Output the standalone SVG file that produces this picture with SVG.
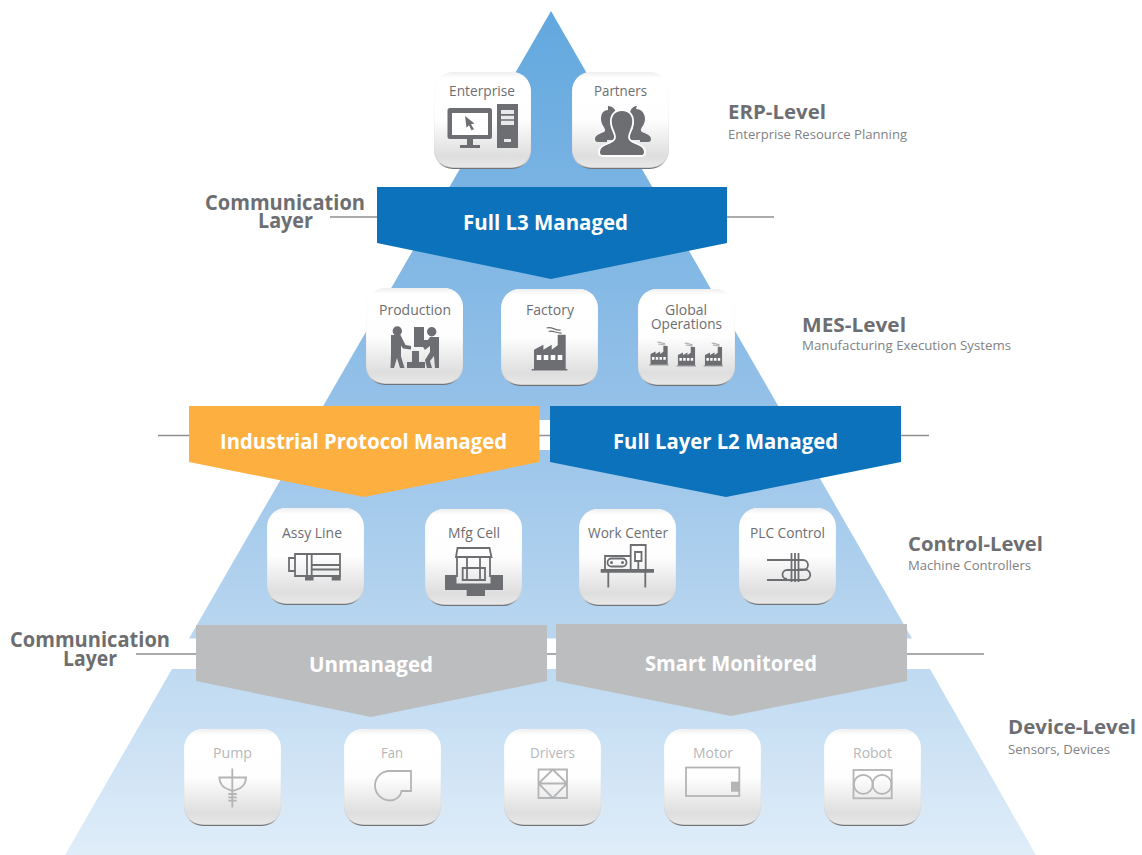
<svg xmlns="http://www.w3.org/2000/svg" width="1142" height="855" viewBox="0 0 1142 855">
<style>
text{font-family:"Open Sans","Noto Sans","Liberation Sans",sans-serif}
.t{font-size:14px;fill:#6d6e71}
.tl{font-size:14px;fill:#b6b7b9}
.h{font-size:20px;font-weight:700;fill:#6d6e71}
.s{font-size:13.5px;fill:#808285}
.c{font-size:21px;font-weight:700;fill:#6d6e71}
.b{font-size:21px;font-weight:700;fill:#fff}
.lnk{stroke:#8f9093;stroke-width:1.7;fill:none}
.k{fill:#6d6e71}
.w{fill:#fff}
.o{fill:none;stroke:#6d6e71;stroke-width:1.8}
.ol{fill:none;stroke:#b3b4b6;stroke-width:1.8}
</style>
<defs>
<linearGradient id="pyr" gradientUnits="userSpaceOnUse" x1="0" y1="11" x2="0" y2="855">
<stop offset="0" stop-color="#62a8de"/><stop offset=".45" stop-color="#93c0e8"/><stop offset=".75" stop-color="#bad7f0"/><stop offset="1" stop-color="#e0edf9"/>
</linearGradient>
<linearGradient id="edge" x1="0" y1="0" x2="0" y2="1">
<stop offset="0" stop-color="#fff"/><stop offset=".93" stop-color="#d0d0d0"/><stop offset="1" stop-color="#6a6b6e"/>
</linearGradient>
<linearGradient id="body" x1="0" y1="0" x2="0" y2="1">
<stop offset="0" stop-color="#eeeeee"/><stop offset=".06" stop-color="#fff"/><stop offset=".5" stop-color="#fefefe"/><stop offset=".88" stop-color="#dedede"/><stop offset="1" stop-color="#e8e8e8"/>
</linearGradient>
<g id="tile">
<rect width="97" height="97" rx="19" fill="url(#edge)"/>
<rect x=".3" width="96.400" height="95.800" rx="19" fill="url(#body)"/>
</g>
<g id="fac">
<path class="k" d="M0,0H35.7V1.5H0Z"/>
<path class="k" d="M2.3,0V-19.3L11.7,-24.3V-19.3L20,-24.3V-19.3L26,-23.7V-34.3H34V0Z"/>
<path class="w" d="M5,-14h4.600v5H5ZM12,-14h4.600v5H12ZM19,-14h4.600v5H19ZM26,-14h4.600v5H26Z"/>
<path fill="none" stroke="#6d6e71" stroke-width="1.2" d="M15,-41c5,-2 9,3 14,2M17,-37.500c4,-1.500 8,2 13,1.500"/>
</g>
</defs>

<g id="pyramid">
<path fill="url(#pyr)" d="M551,11L912,638.500H189Z"/>
<path fill="#fff" d="M308,420H794L812,450H291Z"/>
<path fill="url(#pyr)" d="M172,669H930L1036,855H65Z"/>
</g>

<g id="connectors">
<path class="lnk" d="M330,217H377M727,217H774M158,435.500H190M539,435.500H551M900,435.500H929M136,654H197M546,654H557M906,654H984"/>
</g>

<g id="band-l3"><path fill="#0b72bb" d="M377,187H727V243L551,279L377,243Z"/><text class="b" x="463" y="230" textLength="165" lengthAdjust="spacingAndGlyphs">Full L3 Managed</text></g>
<g id="band-industrial"><path fill="#fdb040" d="M189,406H539.500V462L364,497L189,462Z"/><text class="b" x="220" y="449" textLength="287" lengthAdjust="spacingAndGlyphs">Industrial Protocol Managed</text></g>
<g id="band-l2"><path fill="#0b72bb" d="M550,406H901V462L726,497L550,462Z"/><text class="b" x="613" y="449" textLength="225" lengthAdjust="spacingAndGlyphs">Full Layer L2 Managed</text></g>
<g id="band-unmanaged"><path fill="#bbbdbf" d="M196,625H547V681L371,717L196,681Z"/><text class="b" x="309" y="672" textLength="124" lengthAdjust="spacingAndGlyphs">Unmanaged</text></g>
<g id="band-smart"><path fill="#bbbdbf" d="M556,624H907V681L731,716L556,681Z"/><text class="b" x="645" y="671" textLength="172" lengthAdjust="spacingAndGlyphs">Smart Monitored</text></g>

<g id="comm-top"><text class="c" x="205" y="210" textLength="160" lengthAdjust="spacingAndGlyphs">Communication</text><text class="c" x="258" y="228" textLength="55" lengthAdjust="spacingAndGlyphs">Layer</text></g>
<g id="comm-bottom"><text class="c" x="10" y="647" textLength="160" lengthAdjust="spacingAndGlyphs">Communication</text><text class="c" x="63" y="666" textLength="54" lengthAdjust="spacingAndGlyphs">Layer</text></g>

<g id="level-erp"><text class="h" x="728" y="119" textLength="98" lengthAdjust="spacingAndGlyphs">ERP-Level</text><text class="s" x="728" y="139" textLength="179" lengthAdjust="spacingAndGlyphs">Enterprise Resource Planning</text></g>
<g id="level-mes"><text class="h" x="802" y="332" textLength="104" lengthAdjust="spacingAndGlyphs">MES-Level</text><text class="s" x="802" y="350" textLength="209" lengthAdjust="spacingAndGlyphs">Manufacturing Execution Systems</text></g>
<g id="level-control"><text class="h" x="908" y="551" textLength="135" lengthAdjust="spacingAndGlyphs">Control-Level</text><text class="s" x="908" y="570" textLength="123" lengthAdjust="spacingAndGlyphs">Machine Controllers</text></g>
<g id="level-device"><text class="h" x="1008" y="734" textLength="128" lengthAdjust="spacingAndGlyphs">Device-Level</text><text class="s" x="1008" y="754" textLength="102" lengthAdjust="spacingAndGlyphs">Sensors, Devices</text></g>

<g id="enterprise"><use href="#tile" x="434" y="72"/><text class="t" x="449" y="96" textLength="66" lengthAdjust="spacingAndGlyphs">Enterprise</text>
<rect class="k" x="447.500" y="108" width="44.500" height="31" rx="2.500"/><rect class="w" x="452" y="113" width="36" height="22"/>
<path class="k" d="M467,139h6v6h7v3h-20v-3h7ZM465,116l9.500,7.500-3.500,.8 3,5-2.500,1-2.500-5-2.500,2.500Z"/>
<rect class="k" x="497" y="104" width="21" height="44"/>
<path class="w" d="M501,110h13v4h-13ZM501,115.700h13v3.600h-13ZM501,120.700h13v4.300h-13ZM504,139h7v3h-7Z" opacity=".85"/></g>

<g id="partners"><use href="#tile" x="572" y="72"/><text class="t" x="594" y="96" textLength="53" lengthAdjust="spacingAndGlyphs">Partners</text>
<path class="k" d="M608,106c6,0 9,5 8,11 -1,5 -3,8 -3,11l6,12h-12v2h-9c-2,0 -3,-1 -3,-3 0,-5 9,-6 10,-8 1,-3 -4,-6 -4,-12 0,-6 3,-9 7,-9ZM637,106c-5,0 -8,5 -7,11 1,5 3,8 3,11l-6,12h13v2h8c2,0 3,-1 3,-3 0,-5 -9,-6 -10,-8 -1,-3 4,-6 4,-12 0,-6 -4,-10 -9,-10Z"/>
<path class="k" stroke="#fff" stroke-width="1.800" d="M622,110c8,0 12,6 11,14 -1,6 -4,9 -4,13 0,3 2,4 6,6 5,2 10,4 10,9 0,3 -2,4 -4,4h-38c-2,0 -4,-1 -4,-4 0,-5 5,-7 10,-9 4,-2 6,-3 6,-6 0,-4 -3,-7 -4,-13 -1,-8 3,-14 11,-14Z"/></g>

<g id="production"><use href="#tile" x="366" y="288"/><text class="t" x="379" y="315" textLength="72" lengthAdjust="spacingAndGlyphs">Production</text>
<circle class="k" cx="397.300" cy="331" r="4.700"/><circle class="k" cx="431.700" cy="331.700" r="4.700"/>
<path class="k" d="M391,335h9.500l5,10 5.500,1v3.500l-8,-1-2,-3v11l3.500,11.500h-4.500l-3,-10-3,10h-3.500l.5,-14Z"/>
<path class="k" d="M439,337v31h-4l-1,-12-4,5 2,7h-5l-2,-8 5,-8v-6l-5,4-2,-3 7,-10Z"/>
<path class="k" d="M414,327h10v13h5v7h-15ZM412,351h7v11h6v6h-18v-6h5Z"/></g>

<g id="factory"><use href="#tile" x="501" y="289"/><text class="t" x="526" y="315" textLength="48" lengthAdjust="spacingAndGlyphs">Factory</text>
<use href="#fac" transform="translate(531.700 369)"/></g>

<g id="global"><use href="#tile" x="638" y="289"/><text class="t" x="665" y="315" textLength="42" lengthAdjust="spacingAndGlyphs">Global</text><text class="t" x="651" y="329" textLength="71" lengthAdjust="spacingAndGlyphs">Operations</text>
<use href="#fac" transform="translate(649.300 364.500) scale(.54)"/><use href="#fac" transform="translate(676.700 365.500) scale(.54)"/><use href="#fac" transform="translate(703.700 365.500) scale(.54)"/></g>

<g id="assy"><use href="#tile" x="267" y="508"/><text class="t" x="282" y="538" textLength="60" lengthAdjust="spacingAndGlyphs">Assy Line</text>
<path class="o" d="M295,558h-6v13h6M295,554h45v22h-45ZM307,554v22M311.700,554v22M312,565h28M312,569.500h28"/>
<path class="k" d="M305,576h8.500v4.500H305ZM331.700,576h9v4.500h-9Z"/></g>

<g id="mfg"><use href="#tile" x="425" y="509"/><text class="t" x="448" y="538" textLength="52" lengthAdjust="spacingAndGlyphs">Mfg Cell</text>
<path class="o" d="M456,557l1.500,-9h32l2,9ZM457,557v20M490,557v20M467,557v23M480,557v23M462.700,568h22.300v12h-22.300Z"/>
<path class="k" d="M445,575h11.500v8.500h34v-8.500h12.500v15H445ZM466.700,590H485v6h-18.300Z"/></g>

<g id="work"><use href="#tile" x="579" y="509"/><text class="t" x="588" y="538" textLength="80" lengthAdjust="spacingAndGlyphs">Work Center</text>
<path class="k" d="M600.700,569H654v3.700H600.700Z"/>
<path class="o" d="M608.300,572v15.500M645.300,572v15.500M605,569v-13h25.700v13M630.700,569v-24h15v24M635,552h6.500v9H635ZM638.300,561v8"/>
<rect x="607.500" y="558.500" width="19" height="8" rx="4" class="o"/>
<circle class="k" cx="611.500" cy="562.500" r="1.500"/><circle class="k" cx="622.500" cy="562.500" r="1.500"/></g>

<g id="plc"><use href="#tile" x="739" y="508"/><text class="t" x="750" y="538" textLength="75" lengthAdjust="spacingAndGlyphs">PLC Control</text>
<path class="o" d="M767,560H803a5,5 0 0 1 0,10H787a4.500,4.500 0 0 0 0,9M767,580H805a5,5 0 0 0 0,-10.500H798M791.500,553v29M795,553v29M798.500,553v29" stroke-width="1.500"/></g>

<g id="pump"><use href="#tile" x="184" y="729"/><text class="tl" x="213" y="758" textLength="39" lengthAdjust="spacingAndGlyphs">Pump</text>
<path class="ol" d="M232.300,768.500V807.500M219.300,777.500H246c0,7 -5,11 -9,12L232.300,791 227.500,789c-4,-1 -8,-5 -8.200,-11.500ZM228.300,794h8.400M228.300,797.400h8.400M228.300,800.700h8.400"/></g>

<g id="fan"><use href="#tile" x="344" y="729"/><text class="tl" x="381" y="758" textLength="22" lengthAdjust="spacingAndGlyphs">Fan</text>
<path class="ol" d="M411,771H389.500C381,771 375,778 375,785.500 375,794 382,800.500 390,800.500 396,800.500 401,796 401.500,791H411Z"/></g>

<g id="drivers"><use href="#tile" x="504" y="729"/><text class="tl" x="530" y="758" textLength="45" lengthAdjust="spacingAndGlyphs">Drivers</text>
<path class="ol" d="M538.500,769.500H567V798H538.500ZM538.500,783.500H567M552.800,769.500L567,783.500 552.800,798 538.500,783.500Z"/></g>

<g id="motor"><use href="#tile" x="664" y="729"/><text class="tl" x="693" y="758" textLength="40" lengthAdjust="spacingAndGlyphs">Motor</text>
<rect class="ol" x="686" y="767.500" width="53.300" height="28.500"/><rect x="731" y="781.700" width="8.300" height="10" fill="#b3b4b6"/></g>

<g id="robot"><use href="#tile" x="824" y="729"/><text class="tl" x="853" y="758" textLength="39" lengthAdjust="spacingAndGlyphs">Robot</text>
<rect class="ol" x="853.500" y="770" width="38.200" height="28.300"/><circle class="ol" cx="863.300" cy="784.300" r="9.500"/><circle class="ol" cx="882" cy="784.300" r="9.500"/></g>
</svg>
